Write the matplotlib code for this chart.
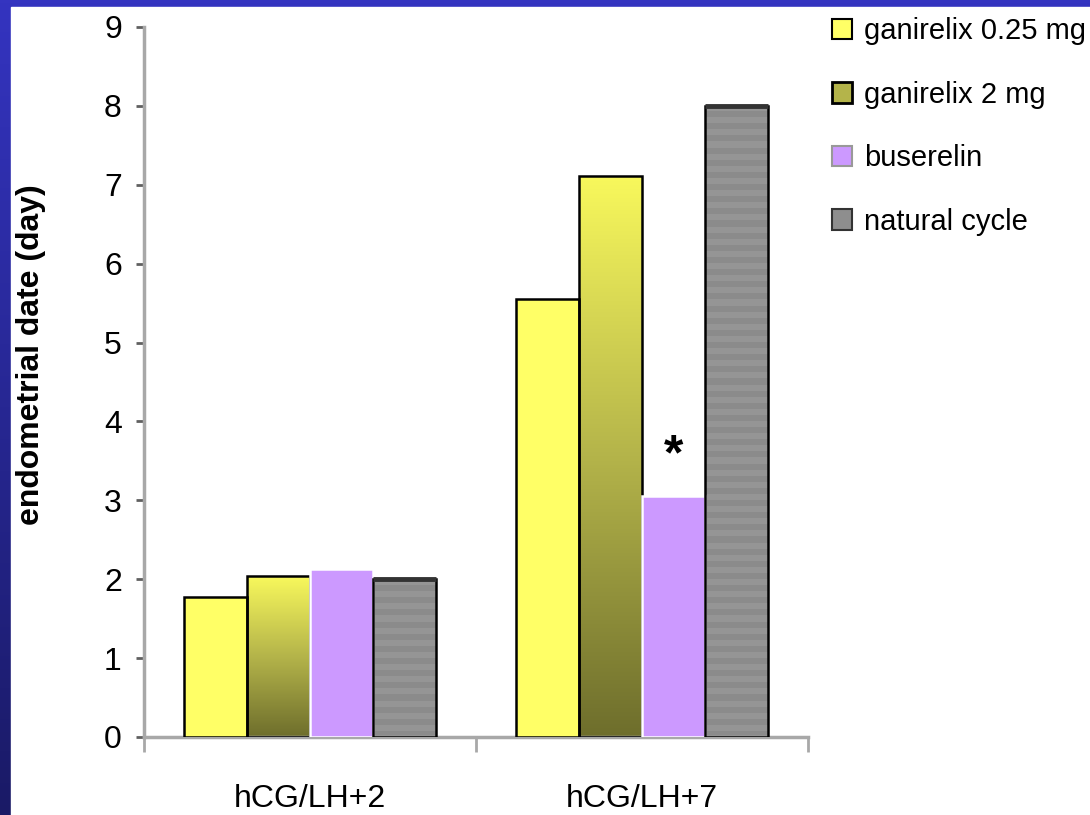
import numpy as np
import matplotlib
matplotlib.use("Agg")
import matplotlib.pyplot as plt
from matplotlib.colors import LinearSegmentedColormap
from matplotlib.patches import Rectangle, Patch
from matplotlib.font_manager import FontProperties

# Endometrial dating after hCG/LH by treatment group
days = ["hCG/LH+2", "hCG/LH+7"]
series = ["ganirelix 0.25 mg", "ganirelix 2 mg", "buserelin", "natural cycle"]
gan_025 = [1.77, 5.55]
gan_2 = [2.04, 7.11]
buserelin = [2.13, 3.05]
natural = [2.00, 8.00]
yticks = list(range(0, 10))

SANS = ["Liberation Sans", "DejaVu Sans"]
W, H = 1090, 815

fig = plt.figure(figsize=(W / 100, H / 100), dpi=100)

# blue slide backdrop with a white panel
bg = fig.add_axes([0, 0, 1, 1], zorder=-10)
bg_cmap = LinearSegmentedColormap.from_list("bg", ["#3434c0", "#1a1a66"])
bg.imshow(np.linspace(0, 1, 256).reshape(-1, 1), cmap=bg_cmap, aspect="auto",
          extent=[0, 1, 0, 1], origin="upper")
bg.add_patch(Rectangle((11 / W, 0), 1, 1 - 7 / H, color="white",
                       transform=bg.transAxes))
bg.set_xlim(0, 1)
bg.set_ylim(0, 1)
bg.set_axis_off()

ax = fig.add_axes([144 / W, 78 / H, 664 / W, 710 / H])
ax.set_facecolor("none")

x = np.arange(len(days))
w = 0.19
offsets = (np.arange(4) - 1.5) * w

b1 = ax.bar(x + offsets[0], gan_025, w, color="#ffff66", edgecolor="black",
            linewidth=1.8, zorder=3)
b2 = ax.bar(x + offsets[1], gan_2, w, facecolor="none", edgecolor="black",
            linewidth=1.8, zorder=3)
b3 = ax.bar(x + offsets[2], buserelin, w, color="#cc99ff", edgecolor="white",
            linewidth=1.8, zorder=3)
b4 = ax.bar(x + offsets[3], natural, w, facecolor="none", edgecolor="black",
            linewidth=1.8, zorder=3)

# vertical gradient fill for the ganirelix 2 mg bars
olive = LinearSegmentedColormap.from_list("olive", ["#6e6e2c", "#b4b44a", "#f8f85c"])
for p in b2:
    x0, y0 = p.get_xy()
    im = ax.imshow(np.linspace(0, 1, 256).reshape(-1, 1), cmap=olive,
                   origin="lower", aspect="auto", zorder=2,
                   extent=[x0, x0 + p.get_width(), y0, y0 + p.get_height()])
    im.set_clip_path(p)

# faint horizontal banding for the natural cycle bars
grey = LinearSegmentedColormap.from_list("grey", ["#8b8b8b", "#959595"])
for p in b4:
    x0, y0 = p.get_xy()
    n = max(2, int(p.get_height() * 13))
    bands = (np.arange(n) % 2).reshape(-1, 1)
    im = ax.imshow(bands, cmap=grey, origin="lower", aspect="auto", zorder=2,
                   interpolation="nearest",
                   extent=[x0, x0 + p.get_width(), y0, y0 + p.get_height()])
    im.set_clip_path(p)
    # darker cap along the top edge
    ax.plot([x0, x0 + p.get_width()], [y0 + p.get_height()] * 2,
            color="#333333", linewidth=3.5, solid_capstyle="butt", zorder=4)

ax.set_xlim(-0.5, 1.5)
ax.set_ylim(0, 9)

for side in ("top", "right"):
    ax.spines[side].set_visible(False)
for side in ("left", "bottom"):
    ax.spines[side].set_color("#a8a8a8")
    ax.spines[side].set_linewidth(2.5)

ax.set_yticks(yticks)
ax.tick_params(axis="y", length=6, width=2, color="#606060", pad=10,
               labelsize=23)
ax.set_xticks(x)
ax.set_xticklabels(days)
ax.set_xticks([-0.5, 0.5, 1.5], minor=True)
ax.tick_params(axis="x", which="major", length=0, pad=34, labelsize=23)
ax.tick_params(axis="x", which="minor", length=11, width=2, color="#a8a8a8")
for lbl in ax.get_xticklabels() + ax.get_yticklabels():
    lbl.set_family(SANS)

fig.text(31 / W, 1 - 355 / H, "endometrial date (day)", rotation=90,
         ha="center", va="center", fontsize=23, fontweight="bold",
         family=SANS)

# significance marker above buserelin at hCG/LH+7
ax.annotate("*", xy=(x[1] + offsets[2], buserelin[1]), xytext=(0, 12),
            textcoords="offset points", ha="center", va="bottom",
            fontsize=36, fontweight="bold", family=SANS)

handles = [
    Patch(facecolor="#ffff66", edgecolor="black", linewidth=1.5),
    Patch(facecolor="#b4b44a", edgecolor="black", linewidth=2),
    Patch(facecolor="#cc99ff", edgecolor="#999999", linewidth=1.5),
    Patch(facecolor="#8e8e8e", edgecolor="#333333", linewidth=1.5),
]
fig.legend(handles, series, loc="upper left",
           bbox_to_anchor=(832 / W, 1 - 17 / H), frameon=False,
           prop=FontProperties(family=SANS, size=21),
           handlelength=0.7, handleheight=0.7, handletextpad=0.4,
           labelspacing=1.22, borderaxespad=0, borderpad=0)

fig.savefig("out.png", dpi=100)
